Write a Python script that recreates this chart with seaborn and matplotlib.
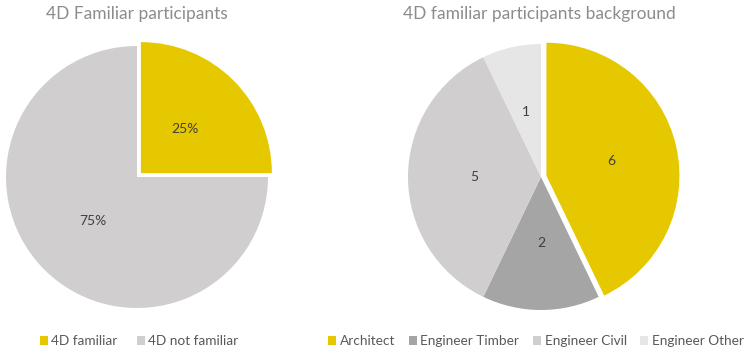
import matplotlib
matplotlib.use("Agg")
import matplotlib.pyplot as plt
from matplotlib.patches import Patch
import seaborn as sns

# Data
familiar_labels = ["4D familiar", "4D not familiar"]
familiar_pct = [25, 75]

background_labels = ["Architect", "Engineer Timber", "Engineer Civil", "Engineer Other"]
background_counts = [6, 2, 5, 1]

sns.set_theme(style="white")
plt.rcParams["font.family"] = ["Lato", "DejaVu Sans"]

yellow = "#E6C800"
palette_left = sns.color_palette([yellow, "#D0CECE"])
palette_right = sns.color_palette([yellow, "#A5A5A5", "#D0CECE", "#E7E6E6"])

title_color = "#8C8C8C"
label_color = "#404040"
legend_color = "#595959"

W, H = 750, 354
fig = plt.figure(figsize=(W / 100, H / 100), dpi=100)
fig.patch.set_facecolor("white")

L = 1.1


def pie_axes(cx, cy, r):
    """Axes whose data unit equals r pixels, with the pie centred at (cx, cy) px from top-left."""
    size = 2 * L * r
    return fig.add_axes([(cx - size / 2) / W, (H - cy - size / 2) / H, size / W, size / H])


def finish(ax):
    ax.set_xlim(-L, L)
    ax.set_ylim(-L, L)
    ax.set_aspect("equal")
    ax.axis("off")


# Left pie
ax1 = pie_axes(137, 177, 131)
ax1.pie(familiar_pct, colors=palette_left, startangle=90, counterclock=False,
        explode=[0.042, 0], labels=[f"{v}%" for v in familiar_pct], labeldistance=0.48,
        textprops=dict(color=label_color, fontsize=10, ha="center", va="center"),
        wedgeprops=dict(linewidth=0))
finish(ax1)
fig.text(137 / W, 1 - 14 / H, "4D Familiar participants", ha="center", va="center",
         fontsize=12.5, color=title_color)

# Right pie
ax2 = pie_axes(541, 177, 133)
ax2.pie(background_counts, colors=palette_right, startangle=90, counterclock=False,
        explode=[0.042, 0, 0, 0], labels=[str(v) for v in background_counts], labeldistance=0.5,
        textprops=dict(color=label_color, fontsize=10, ha="center", va="center"),
        wedgeprops=dict(linewidth=0))
finish(ax2)
fig.text(539 / W, 1 - 14 / H, "4D familiar participants background", ha="center", va="center",
         fontsize=12.5, color=title_color)

# Legends
def legend(labels, colors, cx, spacing):
    handles = [Patch(facecolor=c, edgecolor="none") for c in colors]
    fig.legend(handles, labels, loc="center", bbox_to_anchor=(cx / W, 1 - 341 / H),
               ncol=len(labels), frameon=False, fontsize=9.8, labelcolor=legend_color,
               handlelength=0.6, handleheight=0.6, handletextpad=0.25, columnspacing=spacing,
               borderpad=0, borderaxespad=0)

legend(familiar_labels, palette_left, 139, 1.4)
legend(background_labels, palette_right, 536, 1.0)

fig.savefig("out.png", dpi=100, facecolor="white")
